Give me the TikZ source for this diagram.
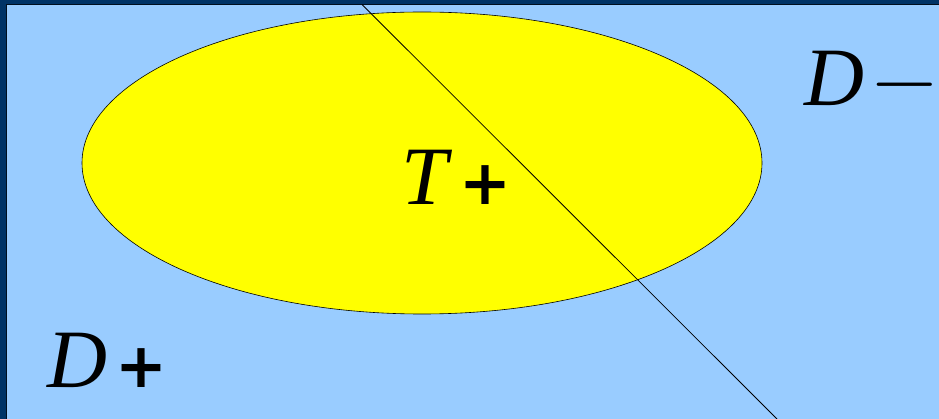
\documentclass[tikz,border=0pt]{standalone}
\usepackage{fontspec}
\setmainfont{Liberation Serif}
\newfontfamily\plusfont{DejaVu Sans}
\newfontfamily\minusfont{Latin Modern Math}
\usetikzlibrary{shapes.geometric}
\definecolor{frame}{HTML}{003366}
\definecolor{sky}{HTML}{99CCFF}
\definecolor{lemon}{HTML}{FFFF00}
\tikzset{
  lbl/.style={anchor=base west, inner sep=0pt, font=\fontsize{83}{85}\selectfont},
  region/.style={draw=black, line width=0.6pt, fill=lemon, ellipse, inner sep=0pt},
  cut/.style={draw=black, line width=0.8pt}
}
\newcommand{\pl}{{\plusfont\bfseries\fontsize{62}{64}\selectfont +}}
\newcommand{\mn}{{\minusfont\char"2212}}
\begin{document}
\begin{tikzpicture}[x=1pt,y=-1pt]
\useasboundingbox (0,0) rectangle (939,419);
\fill[frame] (0,0) rectangle (939,419);
\fill[sky] (6.5,4.5) rectangle (939,419);
\draw[black!70!frame, line width=0.6pt] (6.5,419) -- (6.5,4.5) -- (939,4.5);
\node[region, minimum width=680pt, minimum height=302pt] (ell) at (422,163) {};
\coordinate (ltop) at (362,4.5);
\coordinate (lbot) at (777,419);
\draw[cut] (ltop) -- (lbot);
\node[lbl] (tp) at (401,205) {\textit{T}\hspace{7pt}\pl};
\node[lbl] (dm) at (804,106) {\textit{D}\hspace{8pt}\mn};
\node[lbl] (dp) at (47,387) {\textit{D}\hspace{8pt}\pl};
\end{tikzpicture}
\end{document}
